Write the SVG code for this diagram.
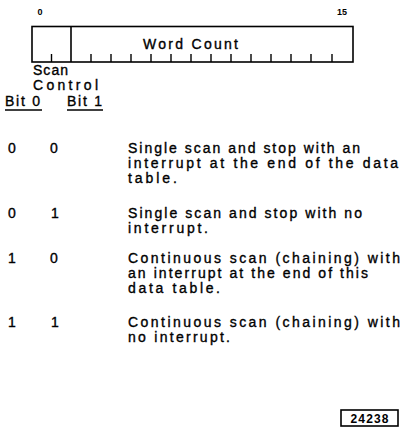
<svg xmlns="http://www.w3.org/2000/svg" width="401" height="436" viewBox="0 0 401 436">
<style>
.ln{fill:none;stroke:#000;stroke-width:1.6}
.tk{stroke:#000;stroke-width:1.4}
.t{font-family:"Liberation Sans",Arial,sans-serif;font-size:14px;fill:#000;stroke:#000;stroke-width:0.35}
.b{font-family:"Liberation Sans",Arial,sans-serif;font-size:9px;font-weight:bold;fill:#000}
.m{text-anchor:middle}
</style>
<rect width="401" height="436" fill="#fff"/>
<g id="register">
<text class="b m" x="40" y="15">0</text>
<text class="b m" x="342" y="15">15</text>
<rect class="ln" x="32" y="26.5" width="321" height="35.5"/>
<line class="ln" x1="71" y1="26.5" x2="71" y2="62"/>
<g class="tk">
<line x1="51.5" y1="54" x2="51.5" y2="62"/>
<line x1="91" y1="54" x2="91" y2="62"/>
<line x1="111" y1="54" x2="111" y2="62"/>
<line x1="131" y1="54" x2="131" y2="62"/>
<line x1="151" y1="54" x2="151" y2="62"/>
<line x1="171" y1="54" x2="171" y2="62"/>
<line x1="191" y1="54" x2="191" y2="62"/>
<line x1="211" y1="54" x2="211" y2="62"/>
<line x1="231" y1="54" x2="231" y2="62"/>
<line x1="251" y1="54" x2="251" y2="62"/>
<line x1="271" y1="54" x2="271" y2="62"/>
<line x1="291" y1="54" x2="291" y2="62"/>
<line x1="311" y1="54" x2="311" y2="62"/>
<line x1="332" y1="54" x2="332" y2="62"/>
</g>
<text class="t" x="143" y="49" textLength="95" lengthAdjust="spacing">Word Count</text>
<text class="t" x="33" y="75" textLength="35" lengthAdjust="spacing">Scan</text>
<text class="t" x="33" y="90" textLength="65" lengthAdjust="spacing">Control</text>
</g>
<g id="header">
<text class="t" x="5" y="106" textLength="35" lengthAdjust="spacing">Bit 0</text>
<text class="t" x="67" y="106" textLength="35" lengthAdjust="spacing">Bit 1</text>
<line class="ln" x1="5" y1="110" x2="42" y2="110"/>
<line class="ln" x1="67" y1="110" x2="103" y2="110"/>
</g>
<g id="row-00">
<text class="t m" x="12" y="153">0</text>
<text class="t m" x="54" y="153">0</text>
<text class="t" x="128" y="153" textLength="232" lengthAdjust="spacing">Single scan and stop with an</text>
<text class="t" x="128" y="168" textLength="270" lengthAdjust="spacing">interrupt at the end of the data</text>
<text class="t" x="128" y="183" textLength="49" lengthAdjust="spacing">table.</text>
</g>
<g id="row-01">
<text class="t m" x="12" y="218">0</text>
<text class="t m" x="55" y="218">1</text>
<text class="t" x="128" y="218" textLength="234" lengthAdjust="spacing">Single scan and stop with no</text>
<text class="t" x="128" y="233" textLength="80" lengthAdjust="spacing">interrupt.</text>
</g>
<g id="row-10">
<text class="t m" x="12" y="263">1</text>
<text class="t m" x="54" y="263">0</text>
<text class="t" x="128" y="263" textLength="272" lengthAdjust="spacing">Continuous scan (chaining) with</text>
<text class="t" x="128" y="278" textLength="240" lengthAdjust="spacing">an interrupt at the end of this</text>
<text class="t" x="128" y="293" textLength="92" lengthAdjust="spacing">data table.</text>
</g>
<g id="row-11">
<text class="t m" x="12" y="327">1</text>
<text class="t m" x="55" y="327">1</text>
<text class="t" x="128" y="327" textLength="272" lengthAdjust="spacing">Continuous scan (chaining) with</text>
<text class="t" x="128" y="342" textLength="102" lengthAdjust="spacing">no interrupt.</text>
</g>
<g id="figure-number">
<rect class="ln" x="341" y="410" width="57" height="16"/>
<text class="b m" x="369.5" y="422.5" style="font-size:12px" textLength="38" lengthAdjust="spacing">24238</text>
</g>
</svg>
